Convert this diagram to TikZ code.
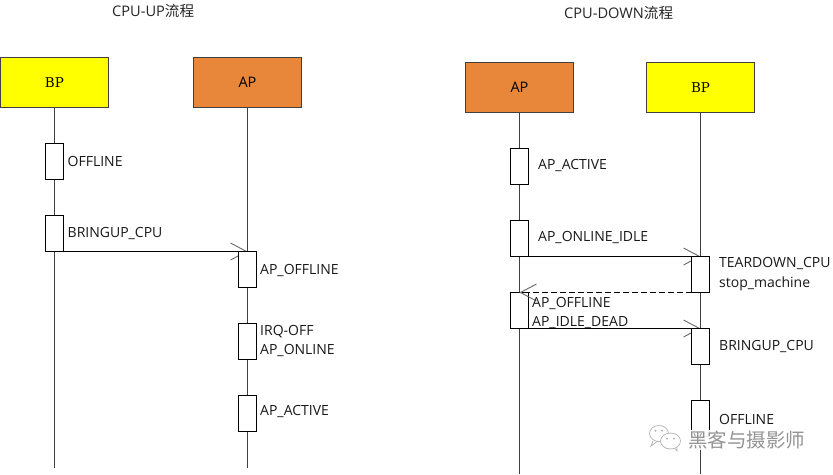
\documentclass[tikz,border=0pt]{standalone}
\usepackage{fontspec}
\setmainfont{Open Sans}
\newfontfamily\cjkfont{Noto Sans CJK SC}
\newfontfamily\slabfont{DejaVu Serif}
\usetikzlibrary{arrows.meta}
\definecolor{lineink}{HTML}{404040}
\definecolor{apfill}{HTML}{E8873A}
\definecolor{bpfill}{HTML}{FFFF00}
\pgfdeclarelayer{paper}
\pgfdeclarelayer{wires}
\pgfsetlayers{paper,wires,main}
\tikzset{
  x=1pt, y=-1pt,
  head/.style={draw=lineink, line width=1pt, minimum width=108pt, minimum height=50pt, inner sep=0pt},
  bphead/.style={head, fill=bpfill, font=\slabfont\fontsize{13.5}{15}\selectfont},
  aphead/.style={head, fill=apfill, font=\fontsize{14.5}{16}\selectfont},
  lifeline/.style={draw=lineink, line width=1pt},
  activation/.style={draw=black, fill=white, line width=1pt, minimum width=18pt, minimum height=36pt, inner sep=0pt, outer sep=0pt},
  statelabel/.style={anchor=base west, inner sep=0pt, text=black!90, font=\fontsize{14}{16}\selectfont},
  titlelabel/.style={anchor=base west, inner sep=0pt, text=black!85, font=\fontsize{14.6}{16}\selectfont},
  message/.style={draw=black, line width=.8pt, -{Straight Barb[length=16pt,width=17pt,color=lineink!80,line width=.9pt]}},
}
\begin{document}
\begin{tikzpicture}
  \begin{pgfonlayer}{paper}
    \useasboundingbox[fill=white] (0,0) rectangle (833,474);
  \end{pgfonlayer}

  % Titles
  \node[titlelabel] (titleup) at (112,16) {CPU-UP{\cjkfont 流程}};
  \node[titlelabel] (titledown) at (564,18) {CPU-DOWN{\cjkfont 流程}};

  % CPU-UP sequence: heads and activations
  \node[bphead] (upbp) at (54.5,82.5) {BP};
  \node[aphead] (upap) at (247.5,82.5) {AP};
  \coordinate (upbpend) at (54.5,468);
  \coordinate (upapend) at (247.5,468);
  \node[activation] (upoffline) at (54.5,161.5) {};
  \node[activation] (upbringup) at (54.5,233.5) {};
  \node[activation] (upapoffline) at (247.5,269.5) {};
  \node[activation] (upirq) at (247.5,341.5) {};
  \node[activation] (upactive) at (247.5,413.5) {};

  % CPU-UP sequence: lifelines and message run beneath the activations
  \begin{pgfonlayer}{wires}
    \draw[lifeline] (upbp.south) -- (upbpend);
    \draw[lifeline] (upap.south) -- (upapend);
    \draw[message] (upbringup.south east) -- (upapoffline.north);
  \end{pgfonlayer}

  \node[statelabel] (l1) at (67.5,166) {OFFLINE};
  \node[statelabel] (l2) at (67.5,237) {BRINGUP\_CPU};
  \node[statelabel] (l3) at (260,274) {AP\_OFFLINE};
  \node[statelabel] (l4) at (260,335) {IRQ-OFF};
  \node[statelabel] (l5) at (260,354) {AP\_ONLINE};
  \node[statelabel] (l6) at (260,415) {AP\_ACTIVE};

  % CPU-DOWN sequence: heads and activations
  \node[aphead] (downap) at (519.5,87.5) {AP};
  \node[bphead] (downbp) at (700.5,87.5) {BP};
  \coordinate (downapend) at (519.5,474);
  \coordinate (downbpend) at (700.5,474);
  \node[activation] (dnactive) at (519.5,166.5) {};
  \node[activation] (dnidle) at (519.5,238.5) {};
  \node[activation] (dnoffline) at (519.5,310.5) {};
  \node[activation] (dnteardown) at (700.5,274.5) {};
  \node[activation] (dnbringup) at (700.5,346.5) {};
  \node[activation] (dnlast) at (700.5,418.5) {};

  % CPU-DOWN sequence: lifelines and solid messages beneath the activations
  \begin{pgfonlayer}{wires}
    \draw[lifeline] (downap.south) -- (downapend);
    \draw[lifeline] (downbp.south) -- (downbpend);
    \draw[message] (dnidle.south east) -- (dnteardown.north);
    \draw[message] (dnoffline.south east) -- (dnbringup.north);
  \end{pgfonlayer}
  % The dashed return message lies over the activation it reaches
  \draw[message, dash pattern=on 6pt off 3pt] (dnteardown.south west) -- (dnoffline.north);

  \node[statelabel] (r1) at (538,169) {AP\_ACTIVE};
  \node[statelabel] (r2) at (538,241) {AP\_ONLINE\_IDLE};
  \node[statelabel] (r3) at (719,267) {TEARDOWN\_CPU};
  \node[statelabel] (r4) at (719,287) {stop\_machine};
  \node[statelabel] (r5) at (532,307) {AP\_OFFLINE};
  \node[statelabel] (r6) at (532,326) {AP\_IDLE\_DEAD};
  \node[statelabel] (r7) at (719,350) {BRINGUP\_CPU};
  \node[statelabel] (r8) at (719,424) {OFFLINE};

  % Account mark in the lower corner
  \node[anchor=west, inner sep=1pt, fill=white, fill opacity=.92, text opacity=1, text=gray!85,
        minimum height=19pt, font=\cjkfont\fontsize{19.5}{21}\selectfont] (mark) at (687,440) {黑客与摄影师};
  \draw[gray!60, fill=white, line width=.7pt] (659,433.5) ellipse [x radius=9.5pt, y radius=8pt];
  \draw[gray!60, line width=.7pt] (653,441) -- (651,446) -- (657,441.5);
  \draw[gray!60, fill=white, line width=.7pt] (670.5,441) ellipse [x radius=10pt, y radius=8pt];
  \draw[gray!60, line width=.7pt] (675,448.5) -- (677,451) -- (677,447.5);
  \fill[gray!70] (655.5,430.5) circle (1pt) (662,430.5) circle (1pt) (667,438.5) circle (1pt) (674,438.5) circle (1pt);
\end{tikzpicture}
\end{document}
